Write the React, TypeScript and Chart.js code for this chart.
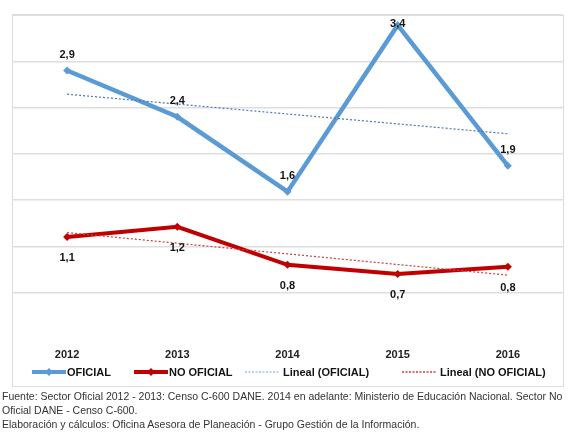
import React, { useEffect, useRef } from "react";
import { Chart, registerables } from "chart.js";

Chart.register(...registerables);

// School years on the horizontal axis
const years = ["2012", "2013", "2014", "2015", "2016"];
// Rate per sector (%)
const oficial = [2.9, 2.4, 1.59, 3.39, 1.87];
const noOficial = [1.1, 1.21, 0.8, 0.7, 0.78];
// Value axis range
const yMin = 0;
const yMax = 3.5;
const yStep = 0.5;

const seriesNames = ["OFICIAL", "NO OFICIAL", "Lineal (OFICIAL)", "Lineal (NO OFICIAL)"];

const footnoteLines = [
  "Fuente: Sector Oficial 2012 - 2013: Censo C-600 DANE. 2014 en adelante: Ministerio de Educación Nacional. Sector No",
  "Oficial DANE - Censo C-600.",
  "Elaboración y cálculos: Oficina Asesora de Planeación - Grupo Gestión de la Información.",
];

const BLUE = "#5B9BD5";
const RED = "#C00000";
const BLUE_TREND = "#4d78b3";
const RED_TREND = "#d23a3a";
const FONT = "'Liberation Sans', Arial, Helvetica, sans-serif";

// Least-squares linear trend evaluated at each category
function linearTrend(values: number[]): number[] {
  const n = values.length;
  const xs = values.map((_, i) => i);
  const mx = xs.reduce((a, b) => a + b, 0) / n;
  const my = values.reduce((a, b) => a + b, 0) / n;
  let num = 0;
  let den = 0;
  for (let i = 0; i < n; i++) {
    num += (xs[i] - mx) * (values[i] - my);
    den += (xs[i] - mx) ** 2;
  }
  const slope = num / den;
  return xs.map((x) => my + slope * (x - mx));
}

// Draws the value of every point, above or below it
const valueLabels = {
  id: "valueLabels",
  afterDatasetsDraw(chart: any, _args: any, opts: any) {
    const positions: (string | null)[] = opts.positions || [];
    const ctx = chart.ctx;
    ctx.save();
    ctx.font = `bold 11px ${FONT}`;
    ctx.fillStyle = "#141414";
    ctx.textAlign = "center";
    ctx.textBaseline = "middle";
    chart.data.datasets.forEach((ds: any, i: number) => {
      const pos = positions[i];
      if (!pos) return;
      const meta = chart.getDatasetMeta(i);
      meta.data.forEach((pt: any, j: number) => {
        const v = ds.data[j] as number;
        const text = v.toFixed(1).replace(".", ",");
        const y = pos === "above" ? Math.max(pt.y - 16, chart.chartArea.top + 9) : pt.y + 21;
        ctx.fillText(text, pt.x, y);
      });
    });
    ctx.restore();
  },
};

function Swatch({ color, dotted, marker }: { color: string; dotted?: boolean; marker?: boolean }) {
  return (
    <svg width={34} height={10} style={{ display: "block" }}>
      <line
        x1={0}
        y1={5}
        x2={34}
        y2={5}
        stroke={color}
        strokeWidth={dotted ? 1.5 : 4}
        strokeDasharray={dotted ? "2 1.5" : undefined}
      />
      {marker && <polygon points="17,1 21,5 17,9 13,5" fill={color} />}
    </svg>
  );
}

export default function App() {
  const canvasRef = useRef<HTMLCanvasElement | null>(null);

  useEffect(() => {
    document.body.style.margin = "0";
    const canvas = canvasRef.current;
    if (!canvas) return;
    const chart = new Chart(canvas, {
      type: "line",
      data: {
        labels: years,
        datasets: [
          {
            label: seriesNames[0],
            data: oficial,
            borderColor: BLUE,
            backgroundColor: BLUE,
            borderWidth: 4.5,
            pointStyle: "rectRot",
            pointRadius: 4,
            pointBorderWidth: 0,
            tension: 0,
            order: 1,
          },
          {
            label: seriesNames[1],
            data: noOficial,
            borderColor: RED,
            backgroundColor: RED,
            borderWidth: 4,
            pointStyle: "rectRot",
            pointRadius: 4,
            pointBorderWidth: 0,
            tension: 0,
            order: 1,
          },
          {
            label: seriesNames[2],
            data: linearTrend(oficial),
            borderColor: BLUE_TREND,
            borderWidth: 1.2,
            borderDash: [2, 2],
            pointRadius: 0,
            tension: 0,
            order: 0,
          },
          {
            label: seriesNames[3],
            data: linearTrend(noOficial),
            borderColor: RED_TREND,
            borderWidth: 1.2,
            borderDash: [2, 2],
            pointRadius: 0,
            tension: 0,
            order: 0,
          },
        ],
      },
      options: {
        responsive: false,
        animation: false,
        layout: { padding: { left: 12, right: 5, top: 15, bottom: 1 } },
        plugins: {
          legend: { display: false },
          tooltip: { enabled: false },
          valueLabels: { positions: ["above", "below", null, null] },
        } as any,
        scales: {
          x: {
            offset: true,
            grid: { display: false, drawTicks: false },
            border: { display: false },
            ticks: {
              padding: 10,
              color: "#222",
              font: { family: FONT, size: 11, weight: "bold" },
            },
          },
          y: {
            min: yMin,
            max: yMax,
            ticks: { display: false, stepSize: yStep },
            border: { display: false },
            grid: {
              drawTicks: false,
              lineWidth: 1.5,
              color: (c: any) => (c.tick && c.tick.value === 0 ? "rgba(0,0,0,0)" : "#dedede"),
            },
          },
        },
      },
      plugins: [valueLabels],
    });
    return () => chart.destroy();
  }, []);

  const legendItems = [
    { left: 32, color: BLUE, dotted: false, marker: true },
    { left: 134, color: RED, dotted: false, marker: true },
    { left: 245, color: "#9dc3e6", dotted: true, marker: false },
    { left: 402, color: RED_TREND, dotted: true, marker: false },
  ];

  return (
    <div
      style={{
        position: "relative",
        width: 568,
        height: 438,
        background: "#fff",
        fontFamily: FONT,
        overflow: "hidden",
      }}
    >
      <div
        style={{
          position: "absolute",
          left: 12,
          top: 15,
          width: 552,
          height: 372,
          boxSizing: "border-box",
          border: "1px solid #dcdcdc",
        }}
      />
      <canvas
        ref={canvasRef}
        width={568}
        height={373}
        style={{ position: "absolute", left: 0, top: 0 }}
      />
      {legendItems.map((it, i) => (
        <div
          key={seriesNames[i]}
          style={{
            position: "absolute",
            left: it.left,
            top: 365,
            height: 14,
            display: "flex",
            alignItems: "center",
            whiteSpace: "nowrap",
          }}
        >
          <Swatch color={it.color} dotted={it.dotted} marker={it.marker} />
          <span
            style={{
              marginLeft: it.dotted ? 4 : 1,
              fontSize: 11,
              fontWeight: "bold",
              color: "#141414",
              lineHeight: "14px",
            }}
          >
            {seriesNames[i]}
          </span>
        </div>
      ))}
      <div
        style={{
          position: "absolute",
          left: 2,
          top: 389,
          fontSize: 10.5,
          lineHeight: "14px",
          color: "#333",
        }}
      >
        {footnoteLines.map((l) => (
          <div key={l} style={{ whiteSpace: "nowrap" }}>
            {l}
          </div>
        ))}
      </div>
    </div>
  );
}
